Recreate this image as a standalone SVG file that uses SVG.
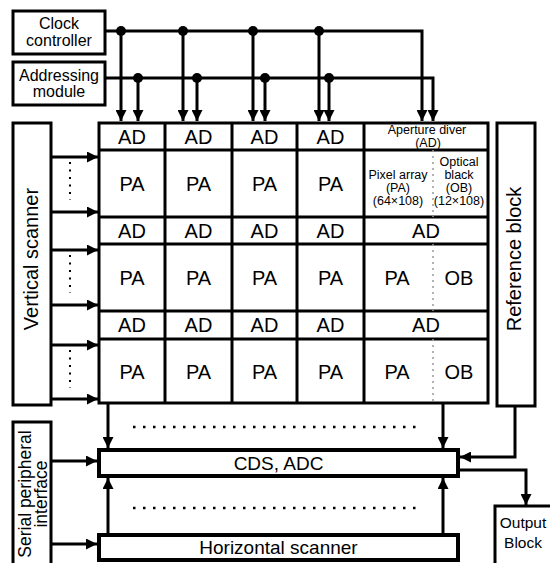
<svg xmlns="http://www.w3.org/2000/svg" width="550" height="563" viewBox="0 0 550 563">
<style>
text{font-family:"Liberation Sans",Arial,sans-serif;fill:#000;text-anchor:middle}
.box{fill:#fff;stroke:#000;stroke-width:3}
.thick{fill:#fff;stroke:#000;stroke-width:4}
.gl{stroke:#000;stroke-width:3;fill:none}
.big{font-size:19px}
.cell{font-size:20px}
.mid{font-size:16px}
.sm{font-size:12.5px}
.c{stroke:#000;stroke-width:3;fill:none}
.a{marker-end:url(#ah)}
.dotk{stroke:#000;stroke-width:2.5;fill:none;stroke-dasharray:2.5 7.5}
.dotv{stroke:#000;stroke-width:2;fill:none;stroke-dasharray:2 5.5}
.dotg{stroke:#999;stroke-width:1.5;fill:none;stroke-dasharray:2 4}
</style>
<defs>
<marker id="ah" viewBox="0 0 10 10" refX="10" refY="5" markerWidth="12" markerHeight="11" markerUnits="userSpaceOnUse" orient="auto">
<path d="M0,0 L10,5 L0,10 z" fill="#000"/>
</marker>
</defs>
<rect width="550" height="563" fill="#fff"/>

<g id="clock-controller">
<rect class="box" x="13" y="11" width="92" height="43"/>
<text class="mid" x="59" y="29">Clock</text>
<text class="mid" x="59" y="46">controller</text>
</g>
<g id="addressing-module">
<rect class="box" x="13" y="62" width="92" height="43"/>
<text class="mid" x="59" y="81">Addressing</text>
<text class="mid" x="59" y="97">module</text>
</g>
<g id="vertical-scanner">
<rect class="box" x="13" y="123" width="38" height="282"/>
<text transform="translate(31,259) rotate(-90)" y="7" style="font-size:20px">Vertical scanner</text>
</g>
<g id="reference-block">
<rect class="box" x="497" y="123" width="38" height="283"/>
<text transform="translate(514,259) rotate(-90)" y="7" style="font-size:20px">Reference block</text>
</g>
<g id="pixel-grid">
<rect class="box" x="99" y="123" width="389" height="280"/>
<path class="gl" d="M99,150H488M99,217H488M99,244H488M99,311H488M99,339H488M165,123V403M232,123V403M297,123V403M364,123V403"/>
<path class="dotg" d="M433,150V217M433,244V311M433,339V403"/>
<g class="cell">
<text x="132" y="144">AD</text><text x="198.5" y="144">AD</text><text x="264.5" y="144">AD</text><text x="330.5" y="144">AD</text>
<text x="132" y="191">PA</text><text x="198.5" y="191">PA</text><text x="264.5" y="191">PA</text><text x="330.5" y="191">PA</text>
<text x="132" y="238">AD</text><text x="198.5" y="238">AD</text><text x="264.5" y="238">AD</text><text x="330.5" y="238">AD</text><text x="426" y="238">AD</text>
<text x="132" y="285">PA</text><text x="198.5" y="285">PA</text><text x="264.5" y="285">PA</text><text x="330.5" y="285">PA</text><text x="397" y="285">PA</text><text x="459" y="285">OB</text>
<text x="132" y="332">AD</text><text x="198.5" y="332">AD</text><text x="264.5" y="332">AD</text><text x="330.5" y="332">AD</text><text x="426" y="332">AD</text>
<text x="132" y="379">PA</text><text x="198.5" y="379">PA</text><text x="264.5" y="379">PA</text><text x="330.5" y="379">PA</text><text x="397" y="379">PA</text><text x="459" y="379">OB</text>
</g>
<g class="sm">
<text x="427" y="134">Aperture diver</text>
<text x="428" y="147">(AD)</text>
<text x="398" y="179">Pixel array</text>
<text x="398" y="192">(PA)</text>
<text x="398" y="205">(64×108)</text>
<text x="459" y="166">Optical</text>
<text x="459" y="179">black</text>
<text x="459" y="192">(OB)</text>
<text x="459" y="205">(12×108)</text>
</g>
</g>
<g id="cds-adc">
<rect class="thick" x="99" y="450" width="359" height="26"/>
<text class="big" x="278.5" y="470">CDS, ADC</text>
</g>
<g id="serial-peripheral-interface">
<rect class="box" x="13" y="422" width="38" height="160"/>
<text transform="translate(31,494) rotate(-90)" y="0" style="font-size:17.5px">Serial peripheral</text>
<text transform="translate(31,494) rotate(-90)" y="16" style="font-size:17.5px">interface</text>
</g>
<g id="horizontal-scanner">
<rect class="thick" x="99" y="535" width="359" height="25"/>
<text class="big" x="278.5" y="554">Horizontal scanner</text>
</g>
<g id="output-block">
<rect class="box" x="495" y="506" width="70" height="70"/>
<text x="523" y="528" style="font-size:15.5px">Output</text>
<text x="523" y="548" style="font-size:15.5px">Block</text>
</g>

<g id="connectors">
<path class="c a" d="M105,31H422V121"/>
<path class="c a" d="M121,31V121"/>
<path class="c a" d="M183,31V121"/>
<path class="c a" d="M253,31V121"/>
<path class="c a" d="M319,31V121"/>
<path class="c a" d="M105,78H433V121"/>
<path class="c a" d="M138,78V121"/>
<path class="c a" d="M197,78V121"/>
<path class="c a" d="M265,78V121"/>
<path class="c a" d="M329,78V121"/>
<g fill="#000">
<circle cx="121" cy="31" r="5"/><circle cx="183" cy="31" r="5"/><circle cx="253" cy="31" r="5"/><circle cx="319" cy="31" r="5"/>
<circle cx="138" cy="78" r="5"/><circle cx="197" cy="78" r="5"/><circle cx="265" cy="78" r="5"/><circle cx="329" cy="78" r="5"/>
</g>
<path class="c a" d="M51,157H98"/>
<path class="c a" d="M51,212H98"/>
<path class="c a" d="M51,250H98"/>
<path class="c a" d="M51,305H98"/>
<path class="c a" d="M51,345H98"/>
<path class="c a" d="M51,399H98"/>
<path class="dotv" d="M70,162V200M70,255V293M70,350V388"/>
<path class="c a" d="M108,403V448"/>
<path class="c a" d="M443,403V448"/>
<path class="c a" d="M515,406V457H460"/>
<path class="c a" d="M51,461H97"/>
<path class="c a" d="M51,544H97"/>
<path class="c a" d="M108,533V478"/>
<path class="c a" d="M443,533V478"/>
<path class="c a" d="M460,470H526V505"/>
<path class="dotk" d="M133,427H422M133,508H422"/>
</g>
</svg>
